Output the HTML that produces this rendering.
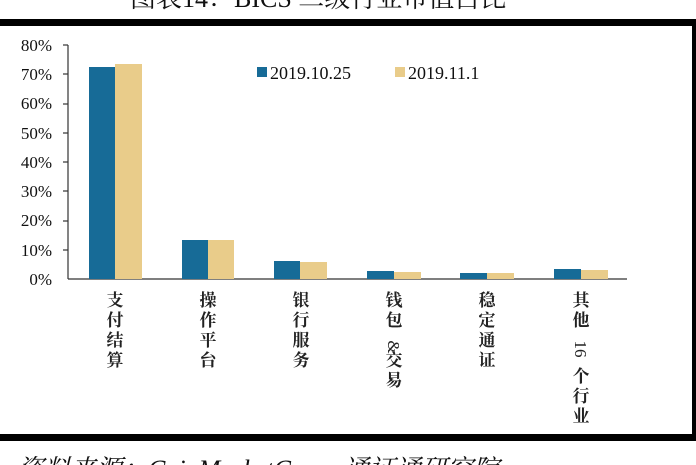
<!DOCTYPE html><html style="overflow:hidden;height:465px"><head><meta charset="utf-8"><style>
body{margin:0;background:#fff;width:696px;height:465px;overflow:hidden;position:relative;font-family:"Liberation Serif","Noto Serif CJK SC",serif}
.l{position:absolute;color:#111}
</style></head><body>
<div class="l" style="left:130px;top:-22px;font-size:26px;white-space:nowrap">图表14：BICS 二级行业市值占比</div>
<div style="position:absolute;left:0;top:19px;width:696px;height:7px;background:#000"></div>
<div style="position:absolute;left:692px;top:19px;width:4px;height:422px;background:#000"></div>
<div style="position:absolute;left:0;top:434px;width:696px;height:7px;background:#000"></div>
<div class="l" style="left:18px;top:449px;font-size:26px;font-style:italic;white-space:nowrap">资料来源：CoinMarketCap，通证通研究院</div>
<svg width="696" height="465" style="position:absolute;left:0;top:0" font-family="Liberation Serif, Noto Serif CJK SC, serif">
<g fill="#111" font-size="17" text-anchor="end">
<text x="52" y="51">80%</text><text x="52" y="80">70%</text><text x="52" y="109">60%</text><text x="52" y="139">50%</text><text x="52" y="168">40%</text><text x="52" y="197">30%</text><text x="52" y="226">20%</text><text x="52" y="256">10%</text><text x="52" y="285">0%</text>
</g>
<g stroke="#333" stroke-width="1.2">
<line x1="68" y1="45" x2="68" y2="279"/><line x1="68" y1="279" x2="627" y2="279"/>
<line x1="63" y1="45" x2="68" y2="45"/><line x1="63" y1="74" x2="68" y2="74"/><line x1="63" y1="104" x2="68" y2="104"/><line x1="63" y1="133" x2="68" y2="133"/><line x1="63" y1="162" x2="68" y2="162"/><line x1="63" y1="191" x2="68" y2="191"/><line x1="63" y1="221" x2="68" y2="221"/><line x1="63" y1="250" x2="68" y2="250"/>
</g>
<g fill="#176b97">
<rect x="89" y="67" width="26" height="212"/><rect x="182" y="240" width="26" height="39"/><rect x="274" y="261" width="26" height="18"/><rect x="367" y="271" width="27" height="8"/><rect x="460" y="273" width="27" height="6"/><rect x="554" y="269" width="27" height="10"/>
<rect x="257" y="67" width="10" height="10"/>
</g>
<g fill="#e9cc8a">
<rect x="115" y="64" width="27" height="215"/><rect x="208" y="240" width="26" height="39"/><rect x="300" y="262" width="27" height="17"/><rect x="394" y="272" width="27" height="7"/><rect x="487" y="273" width="27" height="6"/><rect x="581" y="270" width="27" height="9"/>
<rect x="395" y="67" width="10" height="10"/>
</g>
<g fill="#111" font-size="18"><text x="270" y="79">2019.10.25</text><text x="408" y="79">2019.11.1</text></g>
<g fill="#222" font-size="17" font-weight="bold" text-anchor="middle">
<text x="115" y="306">支</text><text x="115" y="326">付</text><text x="115" y="346">结</text><text x="115" y="366">算</text>
<text x="208" y="306">操</text><text x="208" y="326">作</text><text x="208" y="346">平</text><text x="208" y="366">台</text>
<text x="301" y="306">银</text><text x="301" y="326">行</text><text x="301" y="346">服</text><text x="301" y="366">务</text>
<text x="394" y="306">钱</text><text x="394" y="326">包</text><text transform="translate(388,347) rotate(90)" text-anchor="middle" font-weight="normal">&amp;</text><text x="394" y="366">交</text><text x="394" y="386">易</text>
<text x="487" y="306">稳</text><text x="487" y="326">定</text><text x="487" y="346">通</text><text x="487" y="366">证</text>
<text x="581" y="306">其</text><text x="581" y="326">他</text><text transform="translate(575,349) rotate(90)" text-anchor="middle" font-weight="normal">16</text><text x="581" y="382">个</text><text x="581" y="402">行</text><text x="581" y="422">业</text>
</g>
</svg>
</body></html>
